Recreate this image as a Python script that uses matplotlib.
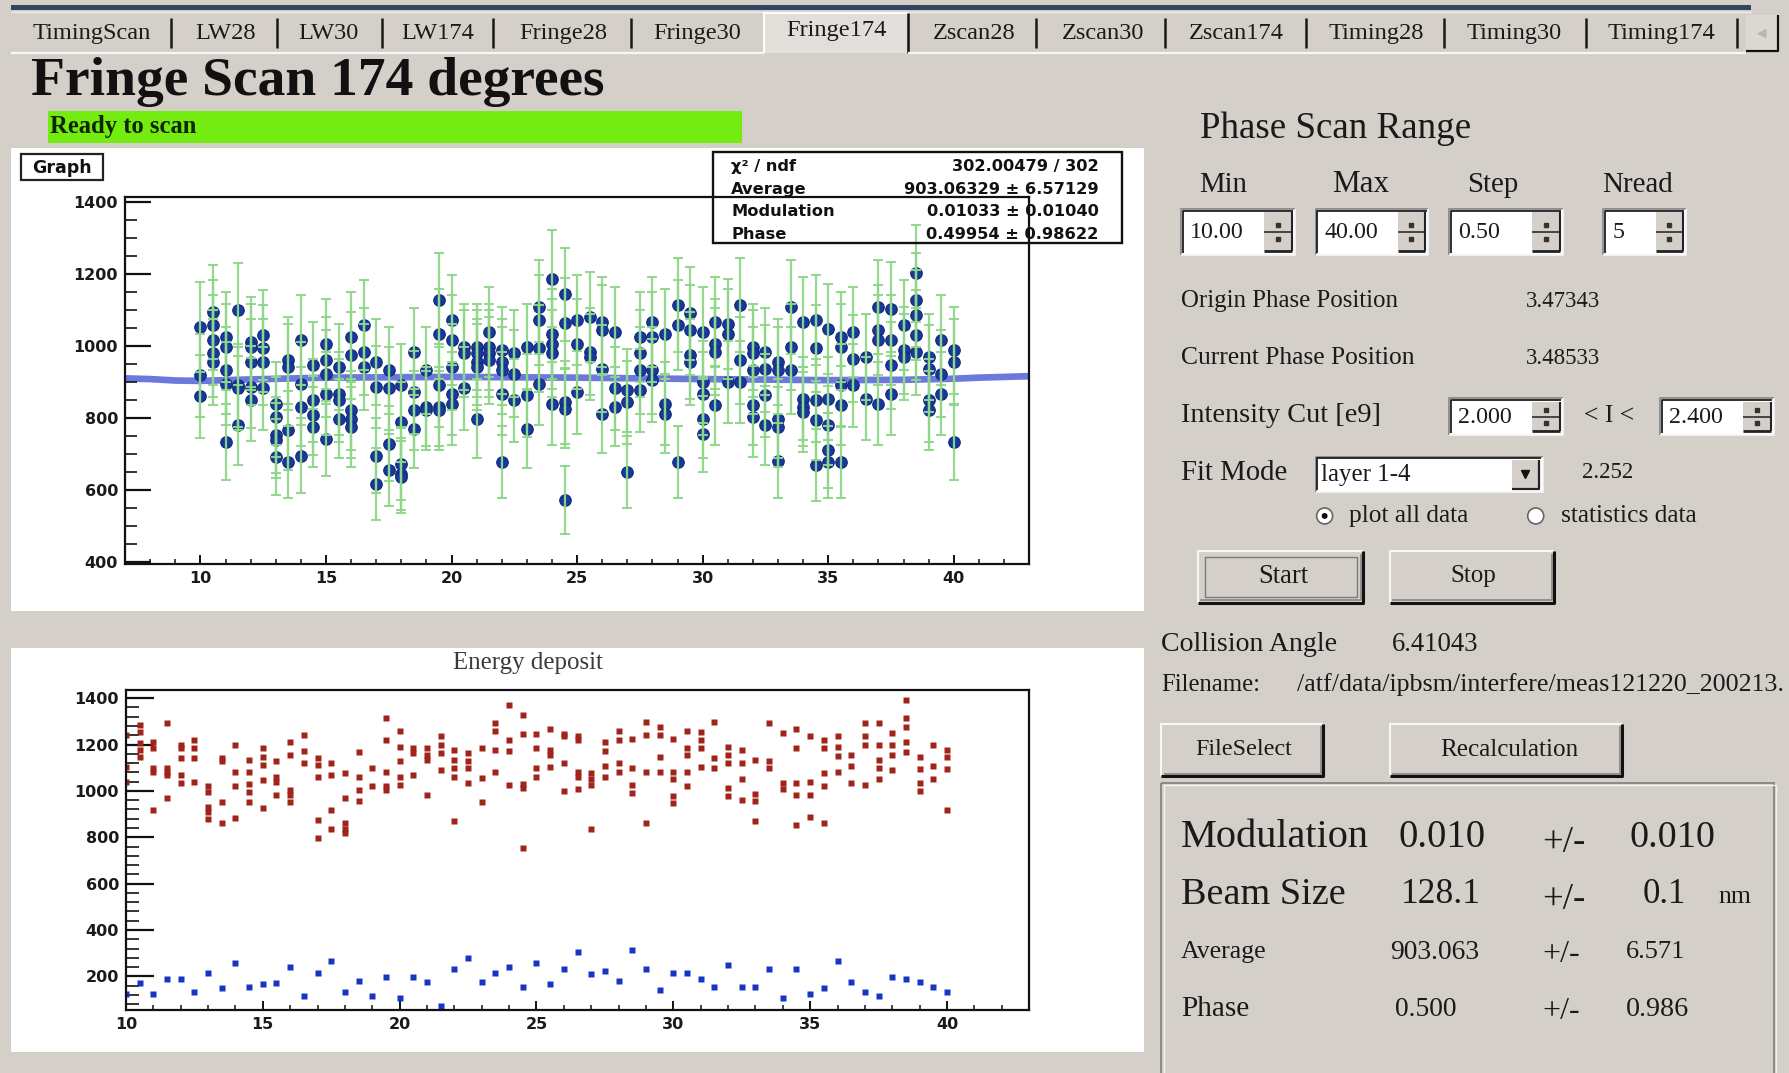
import matplotlib
matplotlib.use("Agg")
import matplotlib.pyplot as plt
from matplotlib.patches import Rectangle, Circle
from matplotlib.ticker import MultipleLocator
import numpy as np

# ---------------- data ----------------
scan_steps = [10.0, 10.5, 11.0, 11.5, 12.0, 12.5, 13.0, 13.5, 14.0, 14.5,
              15.0, 15.5, 16.0, 16.5, 17.0, 17.5, 18.0, 18.5, 19.0, 19.5,
              20.0, 20.5, 21.0, 21.5, 22.0, 22.5, 23.0, 23.5, 24.0, 24.5,
              25.0, 25.5, 26.0, 26.5, 27.0, 27.5, 28.0, 28.5, 29.0, 29.5,
              30.0, 30.5, 31.0, 31.5, 32.0, 32.5, 33.0, 33.5, 34.0, 34.5,
              35.0, 35.5, 36.0, 36.5, 37.0, 37.5, 38.0, 38.5, 39.0, 39.5,
              40.0]

# compton signal per read at each phase step
signal_reads = [
    [1053, 918, 860], [1094, 1059, 1016, 979, 956], [1025, 997, 932, 895, 733],
    [1101, 891, 882, 781], [1011, 997, 956, 886, 851], [1030, 993, 956, 882],
    [840, 803, 752, 738, 692], [960, 942, 766, 678], [1016, 895, 831, 696],
    [946, 849, 807, 775], [1006, 960, 923, 868, 743], [942, 868, 849, 798],
    [1025, 974, 821, 798, 775], [1057, 984, 942], [956, 886, 696, 618],
    [932, 882, 729, 655], [891, 789, 673, 645, 636], [984, 872, 821, 770],
    [932, 831, 821], [1127, 1034, 891, 831, 821], [1071, 1016, 942, 868, 840],
    [997, 979, 882], [997, 979, 956, 942, 798], [1039, 997, 979, 960],
    [988, 956, 932, 868, 678], [979, 923, 849], [997, 863, 770],
    [1108, 1071, 993, 895], [1187, 1034, 1006, 979, 840], [1143, 1064, 844, 826, 573],
    [1071, 1006, 872], [1080, 984, 969], [1067, 1043, 937, 812],
    [1039, 882, 831], [877, 844, 650], [1025, 979, 932, 877],
    [1067, 1025, 932, 905], [1034, 840, 812], [1113, 1057, 678],
    [1090, 1043, 974, 956], [1039, 900, 868, 798, 756], [1067, 1006, 984, 835],
    [1062, 1034, 900], [1113, 960, 900], [997, 979, 932, 835, 803],
    [984, 937, 863, 780], [956, 932, 798, 775, 682], [1108, 997, 932],
    [1067, 854, 831, 817], [1071, 993, 849, 794, 669], [1048, 854, 780, 710, 678],
    [1025, 997, 891, 835, 678], [1039, 965, 891], [969, 854],
    [1108, 1043, 1016, 840], [1103, 1016, 946, 868], [1057, 988, 969],
    [1201, 1127, 1085, 1030, 984], [969, 937, 849, 821], [1016, 923, 868],
    [988, 956, 733],
]
signal_errs = [
    [125, 115, 115], [130, 125, 125, 120, 120], [125, 120, 120, 115, 105],
    [130, 115, 115, 110], [125, 120, 120, 115, 115], [125, 120, 120, 115],
    [115, 110, 105, 105, 105], [120, 120, 110, 100], [125, 115, 110, 105],
    [120, 115, 110, 110], [125, 120, 120, 115, 105], [120, 115, 115, 110],
    [125, 120, 110, 110, 110], [125, 120, 120], [120, 115, 105, 100],
    [120, 115, 105, 100], [115, 110, 100, 100, 100], [120, 115, 110, 110],
    [120, 110, 110], [130, 125, 115, 110, 110], [125, 125, 120, 115, 115],
    [120, 120, 115], [120, 120, 120, 120, 110], [125, 120, 120, 120],
    [120, 120, 120, 115, 100], [120, 120, 115], [120, 115, 110],
    [130, 125, 120, 115], [135, 125, 125, 120, 115], [130, 125, 115, 110, 95],
    [125, 125, 115], [125, 120, 120], [125, 125, 120, 110],
    [125, 115, 110], [115, 115, 100], [125, 120, 120, 115],
    [125, 125, 120, 115], [125, 115, 110], [130, 125, 100],
    [130, 125, 120, 120], [125, 115, 115, 110, 105], [125, 125, 120, 110],
    [125, 125, 115], [130, 120, 115], [120, 120, 120, 110, 110],
    [120, 120, 115, 110], [120, 120, 110, 110, 105], [130, 120, 120],
    [125, 115, 110, 110], [125, 120, 115, 110, 100], [125, 115, 110, 105, 100],
    [125, 120, 115, 110, 100], [125, 120, 115], [120, 115],
    [130, 125, 125, 115], [130, 125, 120, 115], [125, 120, 120],
    [135, 130, 125, 125, 120], [120, 120, 115, 110], [125, 120, 115],
    [120, 120, 105],
]

# fitted fringe curve
fit_x = [7, 8, 9, 10, 12, 15, 20, 25, 30, 35, 38, 40, 41, 43]
fit_y = [910, 908, 904, 903, 907, 912, 914, 912, 908, 905, 906, 909, 912, 916]

# energy deposit: upper band (signal) and lower band (background)
edep_high = [
    [1242, 1105, 1040], [1285, 1256, 1206, 1177, 1148], [1213, 1184, 1098, 1083, 918],
    [1292, 1098, 1083, 1069, 968], [1198, 1184, 1141, 1069, 1033], [1220, 1184, 1141, 1040],
    [1019, 997, 932, 911, 878], [1141, 1127, 954, 860], [1198, 1083, 1019, 882],
    [1134, 1083, 1030, 997, 950], [1184, 1148, 1112, 1047, 925], [1127, 1062, 1040, 983],
    [1213, 1155, 1004, 983, 954], [1242, 1170, 1119], [1141, 1112, 1062, 875, 796],
    [1119, 1069, 918, 834], [1076, 968, 863, 834, 817], [1166, 1062, 1004, 958],
    [1098, 1019], [1314, 1220, 1083, 1019, 1004], [1260, 1191, 1127, 1062, 1026],
    [1184, 1162, 1069], [1184, 1155, 1134, 983], [1235, 1198, 1162, 1091],
    [1177, 1134, 1098, 1062, 868], [1162, 1127, 1098, 1033], [1184, 1055, 950],
    [1292, 1260, 1177, 1083], [1371, 1220, 1170, 1026], [1328, 1246, 1030, 1011, 752],
    [1246, 1184, 1098, 1062], [1266, 1177, 1155, 1101], [1246, 1235, 1122, 1001],
    [1235, 1220, 1083, 1062, 1007], [1076, 1050, 1026, 834], [1213, 1170, 1108, 1062],
    [1260, 1220, 1119, 1083], [1224, 1098, 1026, 993], [1299, 1242, 1083, 860],
    [1275, 1242, 1148, 1083], [1224, 1080, 1050, 979, 947], [1260, 1184, 1155, 1083, 1019],
    [1252, 1220, 1184, 1101], [1299, 1141, 1098], [1191, 1155, 1119, 1011, 976],
    [1177, 1122, 1050, 961], [1134, 986, 958, 868], [1292, 1127, 1098],
    [1249, 1033, 1007], [1266, 1184, 1033, 983, 853], [1235, 1040, 983, 889],
    [1220, 1184, 1076, 1019, 860], [1235, 1191, 1151, 1083], [1155, 1108, 1033],
    [1292, 1235, 1198, 1026], [1292, 1198, 1134, 1098, 1050], [1249, 1198, 1155, 1091],
    [1390, 1314, 1275, 1213, 1166], [1148, 1094, 1033, 1001], [1198, 1108, 1050],
    [1177, 1148, 1094, 918],
]
edep_low = [122, 172, 124, 188, 188, 132, 213, 148, 256, 155,
            165, 172, 239, 115, 213, 266, 134, 181, 115, 196,
            105, 196, 174, 73, 230, 281, 174, 216, 239, 155,
            256, 165, 232, 306, 209, 223, 181, 313, 232, 141,
            213, 213, 188, 155, 249, 155, 155, 232, 106, 232,
            124, 148, 266, 174, 132, 115, 196, 188, 174, 155,
            132]

scan_yticks = [400, 600, 800, 1000, 1200, 1400]
edep_yticks = [200, 400, 600, 800, 1000, 1200, 1400]
scan_xticks = [10, 15, 20, 25, 30, 35, 40]

tab_names = ["TimingScan", "LW28", "LW30", "LW174", "Fringe28", "Fringe30", "Fringe174",
             "Zscan28", "Zscan30", "Zscan174", "Timing28", "Timing30", "Timing174"]
tab_spans = [(28, 132), (173, 222), (263, 313), (354, 413), (455, 532), (573, 650),
             (690, 777), (817, 890), (930, 1003), (1043, 1124), (1165, 1248),
             (1288, 1366), (1410, 1503)]
tab_seps = [150, 243, 335, 432, 553, 908, 1021, 1145, 1266, 1390, 1522]

stat_names = ["χ² / ndf", "Average", "Modulation", "Phase"]
stat_values = ["302.00479 / 302", "903.06329 ± 6.57129", "0.01033 ± 0.01040", "0.49954 ± 0.98622"]

# ---------------- figure ----------------
W, H = 1789, 1073
GW, GH = 1568, 940          # layout grid used for all placements
SX = W / GW
GRAY = "#d4d0c9"
SERIF = "Liberation Serif"

fig = plt.figure(figsize=(W / 100, H / 100), dpi=100)
fig.patch.set_facecolor(GRAY)
R = fig.canvas.get_renderer()


def grid_axes(z):
    a = fig.add_axes([0, 0, 1, 1], zorder=z)
    a.set_xlim(0, GW)
    a.set_ylim(GH, 0)
    a.set_autoscale_on(False)
    a.axis("off")
    a.patch.set_alpha(0)
    return a


ui = grid_axes(0)
ov = grid_axes(5)


def frac(x0, x1, y0, y1):
    return [x0 / GW, 1 - y1 / GH, (x1 - x0) / GW, (y1 - y0) / GH]


def put(ax, x0, x1, y, s, family=SERIF, weight="normal", color="#1a1a1a", size=None, **kw):
    t = ax.text(x0, y, s, fontsize=20, family=family, weight=weight, color=color,
                va="center", ha="left", **kw)
    if size is None:
        w = t.get_window_extent(R).width
        t.set_fontsize(20 * (x1 - x0) * SX / w)
    else:
        t.set_fontsize(size)
    return t


def size_for(s, width, family=SERIF, weight="normal"):
    t = fig.text(0, 0, s, fontsize=20, family=family, weight=weight)
    w = t.get_window_extent(R).width
    t.remove()
    return 20 * width * SX / w


def line(ax, xs, ys, c, lw=1.2, z=3):
    ax.plot(xs, ys, color=c, lw=lw, zorder=z, solid_capstyle="butt")


def rect(ax, x0, y0, x1, y1, fc, ec="none", lw=1.0, z=1):
    ax.add_patch(Rectangle((x0, y0), x1 - x0, y1 - y0, fc=fc, ec=ec, lw=lw, zorder=z))


def sunken(x0, y0, x1, y1, fill="white"):
    rect(ui, x0, y0, x1, y1, fill)
    line(ui, [x0, x0, x1], [y1, y0, y0], "#8a8a8a", 1.3)
    line(ui, [x0 + 1.6, x0 + 1.6, x1 - 1.6], [y1 - 1.6, y0 + 1.6, y0 + 1.6], "#1e1e1e", 1.3)
    line(ui, [x0, x1, x1], [y1, y1, y0], "#f4f4f4", 1.3)


def raised(x0, y0, x1, y1):
    rect(ui, x0, y0, x1, y1, GRAY)
    line(ui, [x0, x0, x1], [y1, y0, y0], "#f7f7f7", 1.5)
    line(ui, [x0 + 2, x1 - 2, x1 - 2], [y1 - 2, y1 - 2, y0 + 2], "#8c8c8c", 1.3)
    line(ui, [x0, x1, x1], [y1, y1, y0], "#111111", 2.2)


SPIN_FS = size_for("10.00", 47)


def spinbox(x0, y0, x1, y1, s):
    sunken(x0, y0, x1, y1)
    bx0, bx1 = x1 - 27, x1 - 3
    ym = (y0 + y1) / 2
    rect(ui, bx0, y0 + 3, bx1, y1 - 3, GRAY, z=2)
    line(ui, [bx0, bx1], [ym, ym], "#3a3a3a", 1.3)
    line(ui, [bx0, bx1], [y1 - 3.5, y1 - 3.5], "#222222", 2.0)
    line(ui, [bx1, bx1], [y0 + 3, y1 - 3], "#222222", 1.5)
    ui.plot([(bx0 + bx1) / 2] * 2, [ym - 6, ym + 6], "s", ms=2.2, color="#333333", zorder=4)
    put(ui, x0 + 8, x0 + 50, (y0 + y1) / 2 + 1, s, size=SPIN_FS)


def radio(cx, cy, on):
    ui.add_patch(Circle((cx, cy), 7, fc="white", ec="#666666", lw=1.2, zorder=3))
    if on:
        ui.add_patch(Circle((cx, cy), 2.6, fc="#111111", ec="none", zorder=4))


# ---------------- window chrome ----------------
rect(ui, 10, 4, 1535, 9, "#34435f")
line(ui, [10, 1535], [10.5, 10.5], "#eeeeee", 1.0)

tab_fs = size_for("TimingScan", 104)
rect(ui, 670, 11, 796, 46, "#e2dfda", z=2)
line(ui, [670, 670, 796], [46, 11.5, 11.5], "#ffffff", 1.4)
line(ui, [796, 796], [11.5, 46], "#111111", 1.8)
line(ui, [10, 670], [46, 46], "#f6f6f6", 1.6)
line(ui, [796, 1530], [46, 46], "#f6f6f6", 1.6)
for xs in tab_seps:
    line(ui, [xs, xs], [16, 42], "#1a1a1a", 1.8)
for name, (a, b) in zip(tab_names, tab_spans):
    yc = 27 if name == "Fringe174" else 29.5
    ui.text((a + b) / 2, yc, name, fontsize=tab_fs, family=SERIF, color="#1a1a1a",
            ha="center", va="center", zorder=4)
# scroll arrow at the end of the tab row
rect(ui, 1530, 13, 1558, 45, "#dcd9d3", z=2)
line(ui, [1530, 1558, 1558], [45, 45, 13], "#111111", 1.6)
ui.text(1544, 29, "◀", fontsize=9, color="#b5b5b5", ha="center", va="center", zorder=4)

put(ui, 27, 530, 72, "Fringe Scan 174 degrees", weight="bold", color="#111111")
rect(ui, 42, 97, 650, 125, "#74ec12")
put(ui, 44, 172, 111, "Ready to scan", weight="bold", color="#0d2600")

# ---------------- canvases ----------------
rect(ui, 10, 130, 1003, 535, "white")
rect(ui, 10, 568, 1003, 922, "white")
rect(ui, 18, 135, 90, 158, "white", ec="#222222", lw=1.6, z=3)
put(ui, 28, 80, 147, "Graph", family="DejaVu Sans", weight="bold", color="#111111")
put(ui, 397, 528, 581, "Energy deposit", color="#3a3a3a")


def root_axes(rect_, xlim, ylim, yticks, ymin_step, ylen):
    ax = fig.add_axes(rect_, zorder=2)
    ax.patch.set_alpha(0)
    ax.set_xlim(*xlim)
    ax.set_ylim(*ylim)
    for s in ax.spines.values():
        s.set_linewidth(1.6)
        s.set_color("#111111")
    ax.set_xticks(scan_xticks)
    ax.set_xticklabels([str(v) for v in scan_xticks], fontweight="bold", fontsize=11.5,
                       color="#1a1a1a")
    ax.set_yticks(yticks)
    ax.set_yticklabels([str(v) for v in yticks], fontweight="bold", fontsize=11.5,
                       color="#1a1a1a")
    ax.xaxis.set_minor_locator(MultipleLocator(1))
    ax.yaxis.set_minor_locator(MultipleLocator(ymin_step))
    ax.tick_params(which="both", direction="in", top=False, right=False, color="#111111")
    ax.tick_params(axis="y", which="major", length=ylen, width=1.6, pad=5)
    ax.tick_params(axis="y", which="minor", length=ylen * 0.45, width=1.2)
    ax.tick_params(axis="x", which="major", length=6.5, width=1.4, pad=5)
    ax.tick_params(axis="x", which="minor", length=3.5, width=1.1)
    return ax


# ---------------- fringe scan graph ----------------
ax1 = root_axes(frac(109.6, 902, 172.3, 494.1), (7, 43), (395, 1414),
                scan_yticks, 50, 19)
sx = np.concatenate([[s] * len(r) for s, r in zip(scan_steps, signal_reads)])
sy = np.concatenate(signal_reads)
se = np.concatenate(signal_errs)
ax1.plot(fit_x, fit_y, color="#5a6bd8", lw=4.8, alpha=0.9, zorder=1)
ax1.plot(sx, sy, "o", ms=8.3, color="#173a9a", mec="#0e2a7e", mew=0.8, zorder=2)
ax1.errorbar(sx, sy, yerr=se, fmt="none", ecolor="#8fd68a", elinewidth=1.6,
             capsize=3.8, capthick=1.5, alpha=0.95, zorder=3)

# statistics box
rect(ov, 625, 133, 983, 213, "none", ec="#111111", lw=1.7, z=2)
stat_fs = size_for(stat_values[1], 171, family="DejaVu Sans", weight="bold")
for i, (n, v) in enumerate(zip(stat_names, stat_values)):
    yy = 146 + i * 19.7
    ov.text(641, yy, n, fontsize=stat_fs, family="DejaVu Sans", weight="bold",
            color="#111111", ha="left", va="center", zorder=3)
    ov.text(963, yy, v, fontsize=stat_fs, family="DejaVu Sans", weight="bold",
            color="#111111", ha="right", va="center", zorder=3)

# ---------------- energy deposit graph ----------------
ax2 = root_axes(frac(110.4, 902, 604.5, 884.8), (10, 43), (55, 1435),
                edep_yticks, 40, 20)
hx = np.concatenate([[s] * len(r) for s, r in zip(scan_steps, edep_high)])
hy = np.concatenate(edep_high)
ax2.plot(hx, hy, "s", ms=4.2, color="#a1241b", mec="none", zorder=2)
ax2.plot(scan_steps, edep_low, "s", ms=4.2, color="#1634c6", mec="none", zorder=2)

# ---------------- control panel ----------------
put(ui, 1052, 1290, 113, "Phase Scan Range")
for s, a, b in [("Min", 1051, 1093), ("Max", 1168, 1218), ("Step", 1286, 1331),
                ("Nread", 1404, 1466)]:
    put(ui, a, b, 162, s)
spinbox(1035, 183, 1135, 223, "10.00")
spinbox(1153, 183, 1252, 223, "40.00")
spinbox(1270, 183, 1370, 223, "0.50")
spinbox(1405, 183, 1478, 223, "5")

put(ui, 1035, 1225, 264, "Origin Phase Position")
put(ui, 1337, 1402, 264, "3.47343")
put(ui, 1035, 1240, 314, "Current Phase Position")
put(ui, 1337, 1402, 314, "3.48533")
put(ui, 1035, 1210, 364, "Intensity Cut [e9]")
spinbox(1270, 349, 1370, 381, "2.000")
put(ui, 1388, 1432, 364, "< I <")
spinbox(1455, 349, 1555, 381, "2.400")

put(ui, 1035, 1128, 414, "Fit Mode")
sunken(1153, 400, 1352, 431)
rect(ui, 1325, 403, 1349, 428, GRAY, z=2)
line(ui, [1325, 1349, 1349], [428, 428, 403], "#222222", 1.6)
ui.plot([1337], [415], "v", ms=6, color="#111111", zorder=4)
put(ui, 1158, 1236, 416, "layer 1-4")
put(ui, 1387, 1432, 414, "2.252")
radio(1161, 452, True)
put(ui, 1182, 1287, 452, "plot all data")
radio(1346, 452, False)
put(ui, 1368, 1487, 452, "statistics data")

raised(1050, 483, 1195, 528)
rect(ui, 1056, 488, 1189, 523, "none", ec="#7a7a7a", lw=1.0, z=2)
put(ui, 1103, 1147, 505, "Start")
raised(1218, 483, 1362, 528)
put(ui, 1271, 1311, 505, "Stop")

put(ui, 1018, 1172, 565, "Collision Angle")
put(ui, 1220, 1296, 565, "6.41043")
put(ui, 1018, 1105, 600, "Filename:")
put(ui, 1137, 1565, 600, "/atf/data/ipbsm/interfere/meas121220_200213.")

raised(1018, 634, 1160, 680)
put(ui, 1048, 1133, 657, "FileSelect")
raised(1218, 634, 1422, 680)
put(ui, 1262, 1383, 657, "Recalculation")

# results frame
rect(ui, 1018, 686, 1555, 950, "none", ec="#8a8a8a", lw=1.4, z=2)
rect(ui, 1020, 688, 1557, 952, "none", ec="#f2f2f2", lw=1.0, z=2)
put(ui, 1035, 1200, 734, "Modulation")
put(ui, 1226, 1302, 734, "0.010")
put(ui, 1352, 1390, 738, "+/-")
put(ui, 1428, 1503, 734, "0.010")
put(ui, 1035, 1180, 784, "Beam Size")
put(ui, 1228, 1298, 784, "128.1")
put(ui, 1352, 1390, 788, "+/-")
put(ui, 1440, 1478, 784, "0.1")
put(ui, 1506, 1535, 786, "nm")
put(ui, 1035, 1110, 834, "Average")
put(ui, 1218, 1296, 834, "903.063")
put(ui, 1352, 1385, 836, "+/-")
put(ui, 1425, 1477, 834, "6.571")
put(ui, 1035, 1095, 884, "Phase")
put(ui, 1223, 1277, 884, "0.500")
put(ui, 1352, 1385, 886, "+/-")
put(ui, 1425, 1480, 884, "0.986")

for a in (ui, ov):
    a.set_xlim(0, GW)
    a.set_ylim(GH, 0)

fig.savefig("out.png", dpi=100, facecolor=fig.get_facecolor())
